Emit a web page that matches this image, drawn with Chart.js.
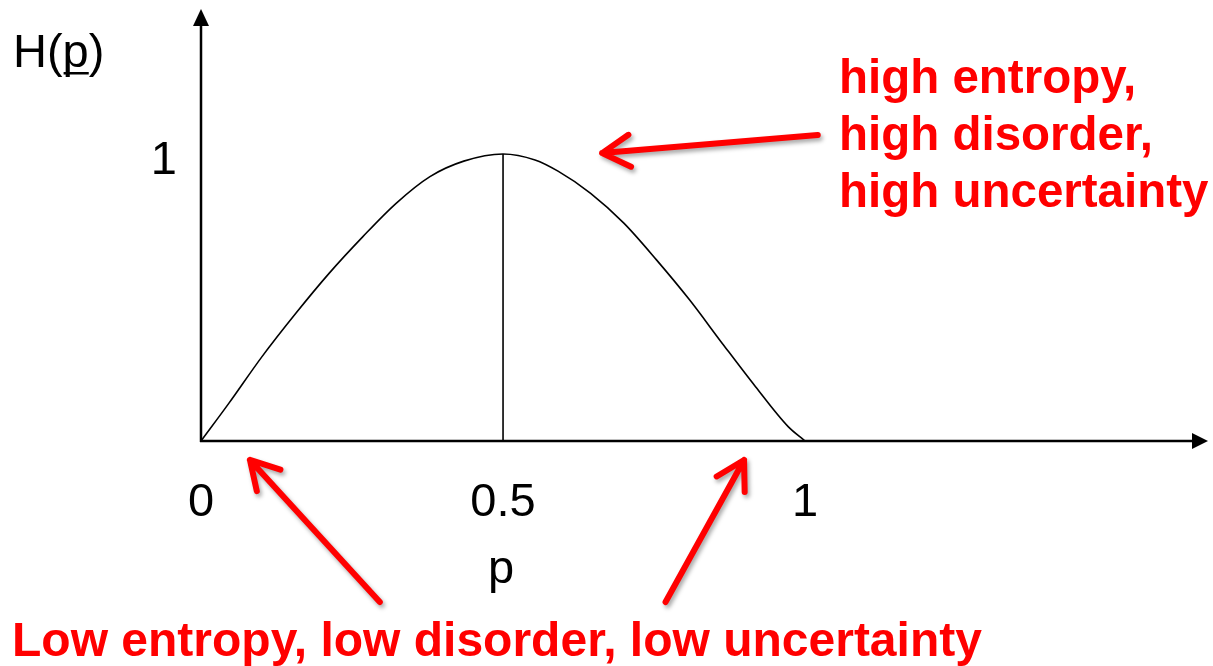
<!DOCTYPE html>
<html>
<head>
<meta charset="utf-8">
<script src="https://cdn.jsdelivr.net/npm/chart.js@4.4.1/dist/chart.umd.min.js"></script>
<style>
  html, body { margin: 0; padding: 0; background: #ffffff; }
  #wrap { width: 1213px; height: 666px; }
</style>
</head>
<body>
<div id="wrap"><canvas id="c" width="1213" height="666"></canvas></div>
<script>
// ---- data ----
const pValues = [0, 0.046, 0.101, 0.157, 0.212, 0.268, 0.323, 0.379, 0.435, 0.5, 0.553, 0.591, 0.645, 0.700, 0.754, 0.809, 0.863, 0.918, 0.972, 1.0];
const hValues = [0, 0.131, 0.294, 0.445, 0.584, 0.712, 0.828, 0.921, 0.975, 1.0, 0.979, 0.940, 0.863, 0.759, 0.631, 0.491, 0.340, 0.189, 0.050, 0];
const peakLineP = [0.5, 0.5];
const peakLineH = [0, 1];
const xTickValues = [0, 0.5, 1];
const xTickLabels = ['0', '0.5', '1'];
const yTickValues = [1];
const yTickLabels = ['1'];
const xTitle = 'p';
const yTitleMain = 'H(';
const yTitleVar = 'p';
const yTitleEnd = ')';
const highText = ['high entropy,', 'high disorder,', 'high uncertainty'];
const lowText = 'Low entropy, low disorder, low uncertainty';
// arrow anchors in data units (tail -> tip)
const highArrow = { from: [1.021, 1.066], to: [0.664, 1.003] };
const lowArrows = [
  { from: [0.296, -0.561], to: [0.081, -0.066] },
  { from: [0.769, -0.561], to: [0.899, -0.066] }
];

const FONT = "'Liberation Sans', Arial, Helvetica, sans-serif";
const RED = '#ff0000';

const curveData = pValues.map((p, i) => ({ x: p, y: hValues[i] }));
const peakData = peakLineP.map((p, i) => ({ x: p, y: peakLineH[i] }));

function drawRedArrow(ctx, x1, y1, x2, y2) {
  const ang = Math.atan2(y1 - y2, x1 - x2);
  const len = 32, spread = Math.PI / 6;
  ctx.save();
  ctx.strokeStyle = RED;
  ctx.lineWidth = 6;
  ctx.lineCap = 'round';
  ctx.lineJoin = 'round';
  ctx.shadowColor = 'rgba(0,0,0,0.35)';
  ctx.shadowBlur = 4;
  ctx.shadowOffsetX = 2;
  ctx.shadowOffsetY = 3;
  ctx.beginPath();
  ctx.moveTo(x1, y1);
  ctx.lineTo(x2, y2);
  ctx.moveTo(x2 + len * Math.cos(ang + spread), y2 + len * Math.sin(ang + spread));
  ctx.lineTo(x2, y2);
  ctx.lineTo(x2 + len * Math.cos(ang - spread), y2 + len * Math.sin(ang - spread));
  ctx.stroke();
  ctx.restore();
}

function zeroPadding(scale) {
  scale.paddingTop = 0; scale.paddingBottom = 0;
  scale.paddingLeft = 0; scale.paddingRight = 0;
}

const axesPlugin = {
  id: 'axesArrows',
  beforeDatasetsDraw(chart) {
    const { ctx, chartArea, scales } = chart;
    const x0 = scales.x.getPixelForValue(0);
    const y0 = scales.y.getPixelForValue(0);
    const topY = chartArea.top;
    const rightX = chartArea.right;
    ctx.save();
    ctx.strokeStyle = '#000';
    ctx.fillStyle = '#000';
    ctx.lineWidth = 2.5;
    ctx.beginPath();
    ctx.moveTo(x0, y0 + 1);
    ctx.lineTo(x0, topY + 14);
    ctx.moveTo(x0 - 1, y0);
    ctx.lineTo(rightX - 14, y0);
    ctx.stroke();
    // arrow heads
    ctx.beginPath();
    ctx.moveTo(x0, topY);
    ctx.lineTo(x0 - 8, topY + 17);
    ctx.lineTo(x0 + 8, topY + 17);
    ctx.closePath();
    ctx.fill();
    ctx.beginPath();
    ctx.moveTo(rightX, y0);
    ctx.lineTo(rightX - 16, y0 - 8);
    ctx.lineTo(rightX - 16, y0 + 8);
    ctx.closePath();
    ctx.fill();
    ctx.restore();
  },
  afterDraw(chart) {
    const { ctx, scales } = chart;
    const sx = scales.x, sy = scales.y;
    ctx.save();
    ctx.fillStyle = '#000';
    ctx.font = '47px ' + FONT;
    ctx.textBaseline = 'alphabetic';
    // x axis title
    ctx.textAlign = 'center';
    ctx.fillText(xTitle, sx.getPixelForValue(0.5) - 2, 583);
    // H(p) label
    ctx.textAlign = 'left';
    let tx = 13, ty = 67;
    ctx.fillText(yTitleMain, tx, ty);
    tx += ctx.measureText(yTitleMain).width;
    const pw = ctx.measureText(yTitleVar).width;
    ctx.fillText(yTitleVar, tx, ty);
    ctx.fillRect(tx + 1, ty + 5, pw - 1, 2.5);
    tx += pw;
    ctx.fillText(yTitleEnd, tx, ty);

    // red texts
    ctx.fillStyle = RED;
    ctx.font = 'bold 47.5px ' + FONT;
    highText.forEach((t, i) => ctx.fillText(t, 839, 93 + i * 57));
    ctx.font = 'bold 48px ' + FONT;
    ctx.fillText(lowText, 12, 656);
    ctx.restore();

    drawRedArrow(ctx, sx.getPixelForValue(highArrow.from[0]), sy.getPixelForValue(highArrow.from[1]),
                 sx.getPixelForValue(highArrow.to[0]), sy.getPixelForValue(highArrow.to[1]));
    lowArrows.forEach(a => drawRedArrow(ctx, sx.getPixelForValue(a.from[0]), sy.getPixelForValue(a.from[1]),
                 sx.getPixelForValue(a.to[0]), sy.getPixelForValue(a.to[1])));
  }
};

new Chart(document.getElementById('c'), {
  type: 'scatter',
  data: {
    datasets: [
      {
        data: curveData,
        showLine: true,
        borderColor: '#000',
        borderWidth: 1.6,
        pointRadius: 0,
        cubicInterpolationMode: 'monotone',
        fill: false
      },
      {
        data: peakData,
        showLine: true,
        borderColor: '#000',
        borderWidth: 1.6,
        pointRadius: 0,
        fill: false
      }
    ]
  },
  options: {
    responsive: false,
    animation: false,
    events: [],
    layout: { padding: { left: 0, right: 5, top: 9, bottom: 0 } },
    plugins: { legend: { display: false }, tooltip: { enabled: false }, title: { display: false } },
    scales: {
      x: {
        type: 'linear',
        min: 0,
        max: 1.667,
        grid: { display: false, drawTicks: false },
        border: { display: false },
        afterBuildTicks(scale) { scale.ticks = xTickValues.map(v => ({ value: v })); },
        afterFit(scale) { scale.height = 225; zeroPadding(scale); },
        ticks: {
          color: '#000',
          padding: 34,
          maxRotation: 0,
          autoSkip: false,
          font: { family: FONT, size: 47 },
          callback(value) { const i = xTickValues.indexOf(value); return i >= 0 ? xTickLabels[i] : ''; }
        },
        title: { display: false }
      },
      y: {
        type: 'linear',
        min: 0,
        max: 1.505,
        grid: { display: false, drawTicks: false },
        border: { display: false },
        afterBuildTicks(scale) { scale.ticks = yTickValues.map(v => ({ value: v })); },
        afterFit(scale) { scale.width = 201; zeroPadding(scale); },
        ticks: {
          color: '#000',
          padding: 24,
          labelOffset: 7,
          font: { family: FONT, size: 47 },
          callback(value) { const i = yTickValues.indexOf(value); return i >= 0 ? yTickLabels[i] : ''; }
        }
      }
    }
  },
  plugins: [axesPlugin]
});
</script>
</body>
</html>
